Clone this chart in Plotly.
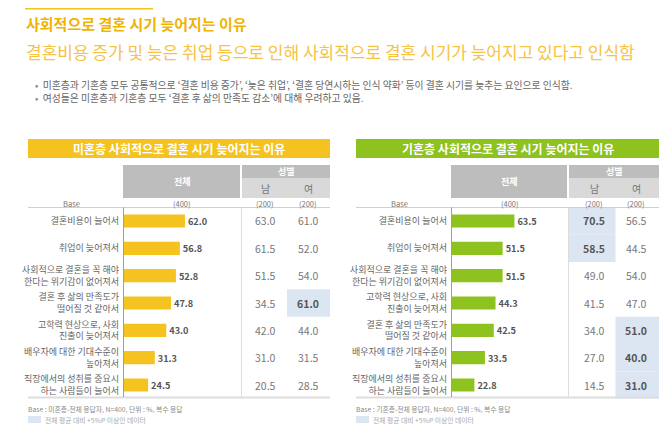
import plotly.graph_objects as go

W, H = 670, 429
FONT = "Noto Sans CJK KR"

# ---------------- data ----------------
left_categories = [
    "결혼비용이 늘어서",
    "취업이 늦어져서",
    "사회적으로 결혼을 꼭 해야<br>한다는 위기감이 없어져서",
    "결혼 후 삶의 만족도가<br>떨어질 것 같아서",
    "고학력 현상으로, 사회<br>진출이 늦어져서",
    "배우자에 대한 기대수준이<br>높아져서",
    "직장에서의 성취를 중요시<br>하는 사람들이 늘어서",
]
left_total = [62.0, 56.8, 52.8, 47.8, 43.0, 31.3, 24.5]
left_male = [63.0, 61.5, 51.5, 34.5, 42.0, 31.0, 20.5]
left_female = [61.0, 52.0, 54.0, 61.0, 44.0, 31.5, 28.5]

right_categories = [
    "결혼비용이 늘어서",
    "취업이 늦어져서",
    "사회적으로 결혼을 꼭 해야<br>한다는 위기감이 없어져서",
    "고학력 현상으로, 사회<br>진출이 늦어져서",
    "결혼 후 삶의 만족도가<br>떨어질 것 같아서",
    "배우자에 대한 기대수준이<br>높아져서",
    "직장에서의 성취를 중요시<br>하는 사람들이 늘어서",
]
right_total = [63.5, 51.5, 51.5, 44.3, 42.5, 33.5, 22.8]
right_male = [70.5, 58.5, 49.0, 41.5, 34.0, 27.0, 14.5]
right_female = [56.5, 44.5, 54.0, 47.0, 51.0, 40.0, 31.0]

base_labels = ["(400)", "(200)", "(200)"]
sex_labels = ["남", "여"]

title = "사회적으로 결혼 시기 늦어지는 이유"
subtitle = "결혼비용 증가 및 늦은 취업 등으로 인해 사회적으로 결혼 시기가 늦어지고 있다고 인식함"
bullets = [
    "미혼층과 기혼층 모두 공통적으로 ‘결혼 비용 증가’, ‘늦은 취업’, ‘결혼 당연시하는 인식 약화’ 등이 결혼 시기를 늦추는 요인으로 인식함.",
    "여성들은 미혼층과 기혼층 모두 ‘결혼 후 삶의 만족도 감소’에 대해 우려하고 있음.",
]
panel_titles = ["미혼층 사회적으로 결혼 시기 늦어지는 이유", "기혼층 사회적으로 결혼 시기 늦어지는 이유"]
footers = ["Base : 미혼층-전체 응답자, N=400, 단위 : %, 복수 응답", "Base : 기혼층-전체 응답자, N=400, 단위 : %, 복수 응답"]
legend_text = "전체 평균 대비 +5%P 이상인 데이터"
threshold = 5.0

# ---------------- helpers ----------------
def px(x):
    return x / W

def py(y):
    return 1 - y / H

YELLOW = "#F5C320"
GREEN = "#8DC21F"
HL = "#DCE6F2"
GRAY_D = "#BDBDBD"
GRAY_L = "#D9D9D9"

fig = go.Figure()
shapes = []
ann = []

def rect(x0, y0, x1, y1, color, layer="below"):
    shapes.append(dict(type="rect", xref="paper", yref="paper", x0=px(x0), x1=px(x1),
                       y0=py(y1), y1=py(y0), fillcolor=color, line=dict(width=0), layer=layer))

def line(x0, y0, x1, y1, color, width=1):
    shapes.append(dict(type="line", xref="paper", yref="paper", x0=px(x0), x1=px(x1),
                       y0=py(y0), y1=py(y1), line=dict(color=color, width=width)))

def text(x, y, s, size, color, xanchor="center", bold=False):
    ann.append(dict(xref="paper", yref="paper", x=px(x), y=py(y), text=("<b>%s</b>" % s) if bold else s,
                    showarrow=False, xanchor=xanchor, yanchor="middle", align="left",
                    font=dict(family=FONT, size=size, color=color)))

# header texts
line(17, 0.8, 145, 0.8, "#F5C320", 1.5)
text(16, 15, title, 15, "#F0B400", "left", bold=True)
text(16, 43, subtitle, 17, "#F6C343", "left")
bullet_text = "<br>".join("<span style='color:#888'>•</span>  " + b for b in bullets)
text(25, 83, bullet_text, 9.8, "#666", "left")

panels = [
    dict(off=0, x0=20, x1=322, bx0=116, bx1=232, m=257, f=300, color=YELLOW,
         cats=left_categories, tot=left_total, male=left_male, fem=left_female, xa="x", ya="y", rng=118),
    dict(off=335, x0=348, x1=651, bx0=444, bx1=559, m=586, f=628, color=GREEN,
         cats=right_categories, tot=right_total, male=right_male, fem=right_female, xa="x2", ya="y2", rng=117),
]

ROW_TOP, ROW_BOT = 199.3, 390.7

for k, p in enumerate(panels):
    # panel title bar
    rect(p["x0"], 131, p["x1"], 150, p["color"])
    text((p["x0"] + p["x1"]) / 2, 140.5, panel_titles[k], 12, "white", bold=True)
    # header boxes
    rect(p["bx0"] - 1, 157, p["bx1"], 190, GRAY_D)
    rect(p["bx1"] + 2, 157, p["x1"], 170, GRAY_D)
    rect(p["bx1"] + 2, 170, p["x1"], 190, GRAY_L)
    text((p["bx0"] + p["bx1"]) / 2, 173, "전체", 9, "white", bold=True)
    text((p["bx1"] + 2 + p["x1"]) / 2, 163.5, "성별", 9, "white", bold=True)
    text(p["m"], 180.5, sex_labels[0], 10, "#777")
    text(p["f"], 180.5, sex_labels[1], 10, "#777")
    text(p["x0"] + 43, 195, "Base", 7.5, "#777")
    text((p["bx0"] + p["bx1"]) / 2, 195, base_labels[0], 7.5, "#777")
    text(p["m"], 195, base_labels[1], 7.5, "#777")
    text(p["f"], 195, base_labels[2], 7.5, "#777")
    # grid lines
    line(p["x0"], 199.5, p["x1"], 199.5, "#D0D0D0", 1)
    line(p["x0"], 389.5, p["x1"], 389.5, "#DDDDDD", 2)
    line(p["bx0"] - 0.5, 199.5, p["bx0"] - 0.5, 389, "#A0A0A0", 1)
    line(p["bx1"] + 1.5, 199.5, p["bx1"] + 1.5, 389, "#DDDDDD", 1)
    # footer
    text(p["x0"] - 2, 401, footers[k], 6.8, "#888", "left")
    rect(p["x0"], 408, p["x0"] + 13, 415, HL)
    text(p["x0"] + 15, 412, legend_text, 6.8, "#AAA", "left")

    # bars
    fig.add_trace(go.Bar(
        x=p["tot"], y=p["cats"], orientation="h", xaxis=p["xa"], yaxis=p["ya"],
        marker=dict(color=p["color"], line=dict(width=0)),
        texttemplate="<b>%{x:.1f}</b>", textposition="outside", cliponaxis=False,
        textfont=dict(family=FONT, size=10.5, color="#555"), hoverinfo="skip", showlegend=False,
    ))
    yref = p["ya"]
    for i, c in enumerate(p["cats"]):
        for val, cx, x0c, x1c in ((p["male"][i], p["m"], p["bx1"] + 2, (p["m"] + p["f"]) / 2 + 0.5),
                                  (p["fem"][i], p["f"], (p["m"] + p["f"]) / 2 + 0.5, p["x1"])):
            hi = val - p["tot"][i] >= threshold
            if hi:
                shapes.append(dict(type="rect", xref="paper", yref=yref, x0=px(x0c), x1=px(x1c),
                                   y0=i - 0.5, y1=i + 0.5, fillcolor=HL, line=dict(width=0), layer="below"))
            ann.append(dict(xref="paper", yref=yref, x=px(cx), y=c, showarrow=False,
                            text=("<b>%.1f</b>" % val) if hi else ("%.1f" % val),
                            xanchor="center", yanchor="middle",
                            font=dict(family=FONT, size=10.5, color="#555" if hi else "#777")))

dom_y = [py(ROW_BOT), py(ROW_TOP)]
axis_common = dict(showgrid=False, zeroline=False, showticklabels=False, fixedrange=True, showline=False)
ycommon = dict(showgrid=False, zeroline=False, showline=False, fixedrange=True, ticks="",
               autorange="reversed", tickfont=dict(family=FONT, size=9, color="#666"), domain=dom_y)

fig.update_layout(
    width=W, height=H, margin=dict(l=0, r=0, t=0, b=0, pad=0),
    paper_bgcolor="white", plot_bgcolor="rgba(0,0,0,0)",
    bargap=0.52,
    xaxis=dict(domain=[px(panels[0]["bx0"]), px(panels[0]["bx1"])], range=[0, panels[0]["rng"]],
               anchor="y", **axis_common),
    yaxis=dict(anchor="x", ticklabelstandoff=4, **ycommon),
    xaxis2=dict(domain=[px(panels[1]["bx0"]), px(panels[1]["bx1"])], range=[0, panels[1]["rng"]],
                anchor="y2", **axis_common),
    yaxis2=dict(anchor="x2", ticklabelstandoff=4, **ycommon),
    shapes=shapes, annotations=ann,
    font=dict(family=FONT),
)

fig.write_html("out.html")
